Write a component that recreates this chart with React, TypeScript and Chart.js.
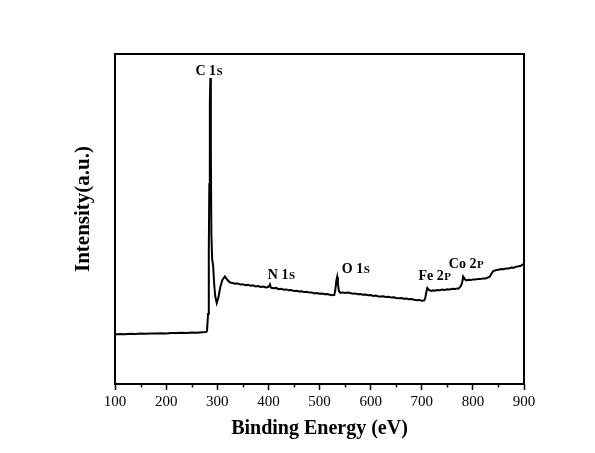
import React, { useEffect, useRef } from "react";
import { Chart, registerables } from "chart.js";

Chart.register(...registerables);

const energies = [
  100, 110, 120, 130, 140, 150, 160, 170, 180, 190, 200, 210, 220, 230, 240, 250, 260, 270, 278,
  280, 282, 283.5, 284.5, 285.5, 286.5, 287.5, 288.5, 290, 292, 294, 296, 299, 302, 306, 310, 315,
  320, 325, 330, 335, 340, 345, 350, 355, 360, 365, 370, 375, 380, 385, 390, 395, 398, 401, 403, 405,
  410, 415, 420, 425, 430, 435, 440, 445, 450, 455, 460, 465, 470, 475, 480, 485, 490, 495, 500, 505,
  510, 515, 520, 526, 529, 531, 533, 534.5, 536, 538, 541, 545, 550, 555, 560, 565, 570, 575, 580,
  585, 590, 595, 600, 605, 610, 615, 620, 625, 630, 635, 640, 645, 650, 655, 660, 665, 670, 675, 680,
  685, 690, 695, 700, 705, 707, 709, 711, 714, 718, 722, 725, 730, 735, 740, 745, 750, 755, 760, 765,
  770, 772, 776, 779, 781, 784, 787, 792, 796, 800, 805, 810, 815, 820, 825, 830, 833, 836, 840, 846,
  850, 855, 860, 865, 870, 875, 880, 885, 890, 894, 897, 900,
];

const intensities = [
  49.6, 50.1, 49.8, 50.3, 50.0, 50.5, 50.2, 50.6, 50.4, 50.8, 50.5, 50.9, 51.0, 51.3, 51.0, 51.4, 51.2, 51.7, 52.0,
  53, 70, 135, 200, 280, 306, 230, 150, 125, 118, 100, 88, 81, 86, 97, 104, 107.5,
  104, 101.5, 101, 100.3, 100.6, 99.6, 99.8, 98.7, 99.1, 98.2, 98.6, 97.6, 97.9, 97.1, 97.4, 96.6, 96.8, 97.6, 99.6, 96.3,
  95.8, 96.1, 94.8, 95.2, 94.3, 94.6, 93.7, 93.9, 92.9, 93.2, 92.5, 92.7, 91.9, 92.2, 91.4, 91.6, 90.6, 91.0, 90.2, 90.5,
  89.7, 90.0, 89.2, 88.8, 89.1, 94.5, 103.5, 107, 100, 93, 91.2, 91.6, 91.0, 91.4, 90.9, 90.3, 90.6, 89.8, 89.9,
  89.2, 89.5, 88.7, 88.9, 88.1, 88.4, 87.6, 87.5, 87.8, 86.9, 87.2, 86.5, 86.8, 86.1, 85.8, 86.0, 85.3, 85.4, 84.8, 84.9,
  84.2, 83.8, 84.1, 83.3, 83.6, 86.5, 92, 96, 94, 93, 93.6, 93.3, 93.9, 93.7, 94.4, 94.1, 94.8, 94.6, 95.3, 95.0,
  95.6, 95.4, 97.5, 101, 107.5, 105, 103.5, 104.2, 103.9, 104.6, 104.4, 105.1, 104.9, 105.6, 105.5, 106.6, 107.2, 110, 113, 114,
  114.3, 115, 114.8, 115.6, 115.4, 116.5, 116.3, 117.4, 117.8, 118.2, 119.5, 119,
];

const peakNames = ["C 1", "N 1", "O 1", "Fe 2", "Co 2"];
const peakSuffixes = ["S", "S", "S", "P", "P"];
const peakLabelEnergies = [283.5, 425, 570.4, 725, 786.6];
const peakLabelIntensities = [309, 105, 111, 104, 116];

const xMajorTicks = [100, 200, 300, 400, 500, 600, 700, 800, 900];
const xMinorTicks = [150, 250, 350, 450, 550, 650, 750, 850];

const xTitle = "Binding Energy (eV)";
const yTitle = "Intensity(a.u.)";

const SERIF = '"Liberation Serif", "Times New Roman", serif';

const framePlugin = {
  id: "frameAndLabels",
  afterDatasetsDraw(chart: any) {
    const { ctx, chartArea, scales } = chart;
    const xs = scales.x;
    const ys = scales.y;
    ctx.save();
    ctx.strokeStyle = "#000";
    ctx.lineWidth = 2;
    ctx.strokeRect(chartArea.left, chartArea.top, chartArea.right - chartArea.left, chartArea.bottom - chartArea.top);
    ctx.lineWidth = 1.5;
    ctx.beginPath();
    for (const v of xMinorTicks) {
      const px = Math.round(xs.getPixelForValue(v)) + 0.5;
      ctx.moveTo(px, chartArea.bottom);
      ctx.lineTo(px, chartArea.bottom + 3.5);
    }
    ctx.stroke();
    ctx.fillStyle = "#000";
    ctx.textBaseline = "alphabetic";
    ctx.textAlign = "left";
    for (let i = 0; i < peakNames.length; i++) {
      const cx = xs.getPixelForValue(peakLabelEnergies[i]);
      const by = ys.getPixelForValue(peakLabelIntensities[i]);
      ctx.font = `bold 14px ${SERIF}`;
      const w1 = ctx.measureText(peakNames[i]).width;
      ctx.font = `bold 11px ${SERIF}`;
      const w2 = ctx.measureText(peakSuffixes[i]).width;
      const start = cx - (w1 + w2) / 2;
      ctx.font = `bold 14px ${SERIF}`;
      ctx.fillText(peakNames[i], start, by);
      ctx.font = `bold 11px ${SERIF}`;
      ctx.fillText(peakSuffixes[i], start + w1 + 0.5, by);
    }
    ctx.font = `bold 20px ${SERIF}`;
    ctx.textAlign = "center";
    ctx.textBaseline = "middle";
    ctx.fillText(xTitle, (chartArea.left + chartArea.right) / 2, 429);
    ctx.save();
    ctx.translate(84, 209);
    ctx.rotate(-Math.PI / 2);
    ctx.font = `bold 21px ${SERIF}`;
    ctx.fillText(yTitle, 0, 0);
    ctx.restore();
    ctx.restore();
  },
};

export default function App() {
  const ref = useRef<HTMLCanvasElement | null>(null);
  useEffect(() => {
    if (!ref.current) return;
    const points = energies.map((e, i) => ({ x: e, y: intensities[i] }));
    const chart = new Chart(ref.current, {
      type: "line",
      data: {
        datasets: [
          {
            data: points,
            borderColor: "#000",
            borderWidth: 2,
            pointRadius: 0,
            tension: 0,
            fill: false,
          },
        ],
      },
      options: {
        animation: false,
        responsive: false,
        maintainAspectRatio: false,
        events: [],
        layout: { padding: { left: 115, right: 71, top: 54, bottom: 0 } },
        plugins: { legend: { display: false }, tooltip: { enabled: false }, title: { display: false } },
        scales: {
          x: {
            type: "linear",
            min: 100,
            max: 900,
            afterBuildTicks: (scale: any) => {
              scale.ticks = xMajorTicks.map((v) => ({ value: v }));
            },
            afterFit: (scale: any) => {
              scale.height = 69;
            },
            border: { display: false },
            grid: {
              drawOnChartArea: false,
              drawTicks: true,
              tickLength: 6,
              tickColor: "#000",
              tickWidth: 1.5,
            },
            ticks: {
              color: "#000",
              padding: 3,
              maxRotation: 0,
              autoSkip: false,
              font: { family: SERIF, size: 15 },
              callback: (v: any) => String(v),
            },
          },
          y: {
            type: "linear",
            display: false,
            min: 0,
            max: 330,
          },
        },
      },
      plugins: [framePlugin],
    });
    return () => chart.destroy();
  }, []);
  return (
    <div style={{ position: "fixed", left: 0, top: 0, width: 595, height: 453, background: "#fff" }}>
      <canvas ref={ref} width={595} height={453} style={{ width: 595, height: 453 }} />
    </div>
  );
}
